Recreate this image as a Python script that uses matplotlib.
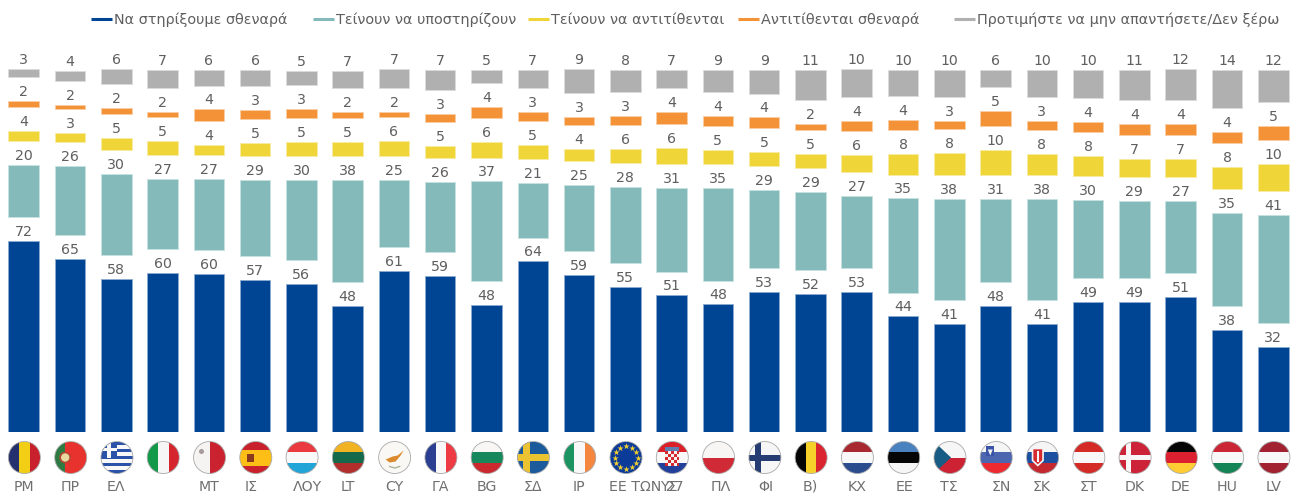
import numpy as np
import matplotlib
matplotlib.use('Agg')
import matplotlib.pyplot as plt
from matplotlib.colors import to_rgb
from matplotlib.patches import Circle, Rectangle, Polygon

plt.rcParams['font.family'] = ['DejaVu Sans']

labels = ['ΡΜ', 'ΠΡ', 'ΕΛ', '', 'ΜΤ', 'ΙΣ', 'ΛΟΥ', 'LT', 'CY', 'ΓΑ', 'BG', 'ΣΔ', 'ΙΡ', 'ΕΕ ΤΩΝ 27',
          'ΥΣ', 'ΠΛ', 'ΦΙ', 'Β)', 'ΚΧ', 'ΕΕ', 'ΤΣ', 'ΣΝ', 'ΣΚ', 'ΣΤ', 'DK', 'DE', 'HU', 'LV']

# printed values
strong_support = [72, 65, 58, 60, 60, 57, 56, 48, 61, 59, 48, 64, 59, 55,
                  51, 48, 53, 52, 53, 44, 41, 48, 41, 49, 49, 51, 38, 32]
tend_support = [20, 26, 30, 27, 27, 29, 30, 38, 25, 26, 37, 21, 25, 28,
                31, 35, 29, 29, 27, 35, 38, 31, 38, 30, 29, 27, 35, 41]
tend_oppose = [4, 3, 5, 5, 4, 5, 5, 5, 6, 5, 6, 5, 4, 6,
               6, 5, 5, 5, 6, 8, 8, 10, 8, 8, 7, 7, 8, 10]
strong_oppose = [2, 2, 2, 2, 4, 3, 3, 2, 2, 3, 4, 3, 3, 3,
                 4, 4, 4, 2, 4, 4, 3, 5, 3, 4, 4, 4, 4, 5]
no_answer = [3, 4, 6, 7, 6, 6, 5, 7, 7, 7, 5, 7, 9, 8,
             7, 9, 9, 11, 10, 10, 10, 6, 10, 10, 11, 12, 14, 12]

# unrounded heights
strong_support_h = [71.9, 65.2, 57.6, 59.7, 59.6, 57.3, 55.7, 47.4, 60.6, 58.7, 47.7, 64.2, 59.0, 54.7,
                    51.4, 48.0, 52.6, 51.9, 52.6, 43.5, 40.5, 47.5, 40.5, 48.9, 49.0, 50.7, 38.3, 31.9]
tend_support_h = [19.7, 25.8, 30.4, 26.7, 26.5, 28.6, 30.2, 38.4, 25.1, 26.3, 37.6, 20.7, 25.0, 28.4,
                  31.6, 34.7, 29.4, 29.4, 27.1, 35.4, 38.3, 31.1, 38.3, 29.5, 29.0, 27.2, 35.3, 40.8]
tend_oppose_h = [3.8, 3.5, 4.6, 5.1, 3.8, 4.8, 5.1, 5.3, 5.8, 4.8, 6.0, 5.3, 4.5, 5.6,
                 6.0, 5.3, 5.4, 5.3, 6.5, 7.7, 8.3, 9.7, 7.8, 7.5, 6.9, 7.0, 8.0, 10.2]
strong_oppose_h = [2.1, 1.6, 2.3, 1.9, 4.5, 3.5, 3.5, 2.3, 2.1, 2.8, 4.1, 3.3, 3.1, 3.3,
                   4.4, 3.9, 4.0, 2.5, 3.9, 4.0, 3.0, 5.4, 3.4, 3.9, 4.0, 4.0, 4.5, 5.3]
no_answer_h = [3.3, 3.8, 5.8, 6.8, 6.0, 6.0, 5.3, 6.5, 6.9, 7.5, 4.7, 6.8, 8.9, 8.3,
               7.0, 8.5, 8.8, 11.0, 10.4, 9.8, 10.0, 6.5, 10.2, 10.4, 11.4, 11.7, 14.0, 11.9]

printed = [strong_support, tend_support, tend_oppose, strong_oppose, no_answer]
heights = [strong_support_h, tend_support_h, tend_oppose_h, strong_oppose_h, no_answer_h]
names = ['Να στηρίξουμε σθεναρά', 'Τείνουν να υποστηρίζουν', 'Τείνουν να αντιτίθενται',
         'Αντιτίθενται σθεναρά', 'Προτιμήστε να μην απαντήσετε/Δεν ξέρω']
colors = ['#004494', '#85BABB', '#EFD538', '#F39237', '#B0B0B0']

W, H = 1303, 497
TEXT = '#5F5F5F'
GAP = 9   # transparent spacer between stacked segments

fig = plt.figure(figsize=(W / 100, H / 100), dpi=100)
ax = fig.add_axes([0.57 / W, (H - 432) / H, 1295.8 / W, 364 / H])
x = np.arange(len(labels))
ax.set_xlim(-0.5, len(labels) - 0.5)
ax.set_ylim(0, 137)
ax.axis('off')

bottom = np.zeros(len(labels))
for vals, shown, col in zip(heights, printed, colors):
    vals = np.array(vals)
    edge = 0.45 * np.array(to_rgb(col)) + 0.55
    ax.bar(x, vals, 0.66, bottom=bottom, color=col, edgecolor=edge, lw=0.6)
    for xi, b, v, s in zip(x, bottom, vals, shown):
        ax.annotate(str(s), (xi, b + v), xytext=(0, 5), textcoords='offset pixels',
                    ha='center', va='baseline', fontsize=10.2, color=TEXT)
    bottom = bottom + vals + GAP

# some category labels are shifted in the original
shift = {5: -3.5, 6: 6, 13: 21, 14: -3, 15: 2.5, 16: 2, 19: 1.5, 21: 6}
for i, lab in enumerate(labels):
    ax.annotate(lab, (i, 0), xytext=(shift.get(i, 0), -55), textcoords='offset pixels',
                ha='center', va='center', fontsize=10.2, color='#707070')

# overlay in pixel coordinates for legend and flags
ov = fig.add_axes([0, 0, 1, 1], zorder=5)
ov.set_xlim(0, W)
ov.set_ylim(H, 0)
ov.axis('off')

legend_x = [91, 313, 528, 738, 954]
for lx, name, col in zip(legend_x, names, colors):
    ov.plot([lx, lx + 21], [19, 19], color=col, lw=2.2, solid_capstyle='butt')
    ov.text(lx + 23, 19.5, name, ha='left', va='center', fontsize=10.4, color=TEXT)

FY = 457.5
R = 16


def stripes(cx, clip, cols, vertical=False, weights=None):
    weights = weights or [1] * len(cols)
    pos = -R
    for c, w in zip(cols, weights):
        size = 2 * R * w / sum(weights)
        if vertical:
            r = Rectangle((cx + pos, FY - R), size, 2 * R, color=c, lw=0)
        else:
            r = Rectangle((cx - R, FY + pos), 2 * R, size, color=c, lw=0)
        ov.add_patch(r)
        r.set_clip_path(clip)
        pos += size


def box(clip, x0, y0, w, h, c):
    r = Rectangle((x0, y0), w, h, color=c, lw=0)
    ov.add_patch(r)
    r.set_clip_path(clip)


def cross(cx, clip, bg, fg, thick=7):
    stripes(cx, clip, [bg])
    box(clip, cx - R, FY - thick / 2, 2 * R, thick, fg)
    box(clip, cx - 7 - thick / 2, FY - R, thick, 2 * R, fg)


def greece(cx, clip):
    stripes(cx, clip, ['#2A52A8', '#F8F8F8'] * 4 + ['#2A52A8'])
    box(clip, cx - R, FY - R, 16, 16, '#2A52A8')
    box(clip, cx - R, FY - R + 6, 16, 3.5, '#F8F8F8')
    box(clip, cx - R + 6.2, FY - R, 3.5, 16, '#F8F8F8')


def portugal(cx, clip):
    stripes(cx, clip, ['#2F7A43', '#E8322E'], True, [1, 2])
    ov.add_patch(Circle((cx - 5.5, FY), 5, fc='#E8D9A0', ec='#B5452F', lw=1.2))


def malta(cx, clip):
    stripes(cx, clip, ['#F6F4F2', '#CB2230'], True)
    ov.add_patch(Circle((cx - 8, FY - 6), 2.5, fc='#A89A9A', ec='none'))


def spain(cx, clip):
    stripes(cx, clip, ['#C8202D', '#FDBE16', '#C8202D'], False, [1, 2, 1])
    box(clip, cx - 9, FY - 4, 7, 8, '#8A3A1E')


def cyprus(cx, clip):
    stripes(cx, clip, ['#FAF8F4'])
    ov.add_patch(Polygon([(cx - 9, FY + 2), (cx - 2, FY - 1), (cx + 3, FY - 2), (cx + 9, FY - 7),
                          (cx + 6, FY - 2), (cx + 1, FY + 4), (cx - 5, FY + 5)], fc='#DB8B2D', ec='none'))
    ov.plot([cx - 5, cx, cx + 5], [FY + 9, FY + 10.5, FY + 9], color='#A9B59A', lw=1)


def sweden(cx, clip):
    cross(cx, clip, '#1C5B9B', '#EBC22F')


def finland(cx, clip):
    cross(cx, clip, '#F7F6F6', '#253D72', 6)


def denmark(cx, clip):
    cross(cx, clip, '#CD2338', '#F8F6F6', 5)


def eu(cx, clip):
    stripes(cx, clip, ['#0B3B98'])
    a = np.arange(12) * np.pi / 6
    ov.scatter(cx + 11.5 * np.cos(a), FY + 11.5 * np.sin(a), marker='*', s=22, color='#F3D02E', lw=0, zorder=3)


def croatia(cx, clip):
    stripes(cx, clip, ['#DC2028', '#F8F8F8', '#22409A'])
    box(clip, cx - 7, FY - 11, 14, 4, '#5E7FB0')
    box(clip, cx - 7, FY - 7, 14, 15, '#F4F0F0')
    for row in range(5):
        for col in range(5):
            if (row + col) % 2 == 0:
                box(clip, cx - 7 + col * 2.8, FY - 7 + row * 3, 2.8, 3, '#D6282F')


def czech(cx, clip):
    stripes(cx, clip, ['#F7F6F6', '#CC2233'])
    tri = Polygon([(cx - R, FY - R), (cx + 1, FY), (cx - R, FY + R)], fc='#175C85', ec='none', zorder=3)
    ov.add_patch(tri)
    tri.set_clip_path(clip)


def slovenia(cx, clip):
    stripes(cx, clip, ['#F5F5F5', '#4C66B0', '#EC2A30'])
    box(clip, cx - 10, FY - 12, 8, 10, '#3A55A8')
    ov.add_patch(Polygon([(cx - 8.5, FY - 8), (cx - 3.5, FY - 8), (cx - 6, FY - 2)], fc='#F0F0F0', ec='none', zorder=3))


def slovakia(cx, clip):
    stripes(cx, clip, ['#F5F5F5', '#1C4FA0', '#C5282F'])
    ov.add_patch(Polygon([(cx - 10, FY - 9), (cx + 0.5, FY - 9), (cx + 0.5, FY + 3), (cx - 4.7, FY + 8),
                          (cx - 10, FY + 3)], fc='#D6282F', ec='#F5F5F5', lw=1.2, zorder=3))
    ov.plot([cx - 4.7, cx - 4.7], [FY - 6, FY + 3], color='#F5F5F5', lw=1.5, zorder=4)


def h(*cols, **kw):
    return lambda cx, clip: stripes(cx, clip, list(cols), False, **kw)


def v(*cols, **kw):
    return lambda cx, clip: stripes(cx, clip, list(cols), True, **kw)


flags = [v('#25306F', '#F2CF14', '#C8202D'), portugal, greece, v('#12994A', '#F6F6F6', '#D5262E'), malta, spain,
         h('#EA3A3F', '#F8F8F8', '#21A5D8'), h('#F2B322', '#14694A', '#B12E2C'), cyprus,
         v('#2A3F91', '#F8F8F8', '#EE3A43'), h('#F8F7F5', '#16885B', '#CB2830'), sweden,
         v('#1C9461', '#F8F8F8', '#F58640'), eu, croatia, h('#F8F6F4', '#CF2A35'), finland,
         v('#050505', '#F5D12A', '#DA2430'), h('#A82A30', '#F8F8F8', '#2B4D8E'), h('#4A81BF', '#050505', '#F5F5F5'),
         czech, slovenia, slovakia, h('#D52B27', '#F8F8F8', '#D52B27'), denmark,
         h('#050505', '#DD2030', '#FFCC33'), h('#CB2636', '#F8F8F8', '#148457'), h('#A32232', '#F8F8F8', '#A32232')]

fig.canvas.draw()
for i, draw in enumerate(flags):
    cx = ax.transData.transform((i, 0))[0] + 0.7
    clip = Circle((cx, FY), R, fc='none', ec='none')
    ov.add_patch(clip)
    draw(cx, clip)
    ov.add_patch(Circle((cx, FY), R, fc='none', ec='#A8A8A8', lw=0.6, zorder=6))

fig.savefig('out.png', dpi=100)
